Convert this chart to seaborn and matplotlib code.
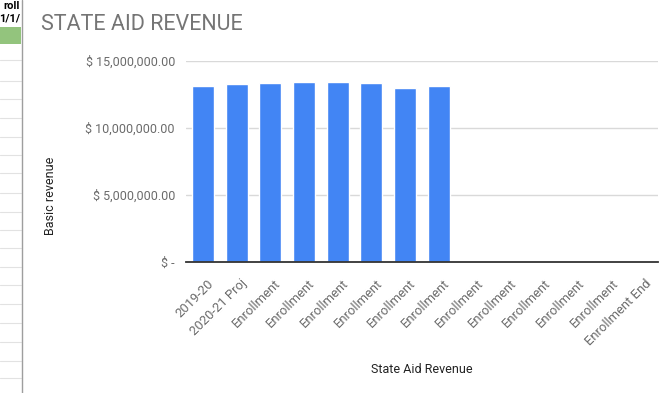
import numpy as np
import pandas as pd
import matplotlib
matplotlib.use("Agg")
import matplotlib.pyplot as plt
import matplotlib.ticker as mticker
import matplotlib.transforms as mtransforms
from matplotlib.patches import Rectangle
from matplotlib.lines import Line2D
import seaborn as sns

# Chart data
categories = ["2019-20", "2020-21 Proj", "Enrollment", "Enrollment", "Enrollment",
              "Enrollment", "Enrollment", "Enrollment", "Enrollment", "Enrollment",
              "Enrollment", "Enrollment", "Enrollment", "Enrollment End"]
basic_revenue = [13070000, 13270000, 13360000, 13430000, 13430000, 13360000,
                 12950000, 13070000, np.nan, np.nan, np.nan, np.nan, np.nan, np.nan]
y_ticks = [0, 5000000, 10000000, 15000000]

title = "STATE AID REVENUE"
x_title = "State Aid Revenue"
y_title = "Basic revenue"

sns.set_theme(style="white")
plt.rcParams["font.family"] = ["Roboto", "DejaVu Sans"]

df = pd.DataFrame({"pos": list(range(len(categories))), "value": basic_revenue})

W, H = 666, 393
fig = plt.figure(figsize=(6.66, 3.93), dpi=100)
ax = fig.add_axes([186 / W, 1 - 262.3 / H, 472 / W, (262.3 - 60.5) / H])

sns.barplot(data=df, x="pos", y="value", color="#4285F4", saturation=1,
            width=0.65, errorbar=None, ax=ax, zorder=3)

ax.set_ylim(0, 15000000)
ax.set_xlim(-0.5, len(categories) - 0.5)
ax.set_yticks(y_ticks)


def money(v, _):
    if v == 0:
        return "$ -"
    return "$ {:,.2f}".format(v)


ax.yaxis.set_major_formatter(mticker.FuncFormatter(money))
ax.grid(axis="y", color="#d9d9d9", linewidth=1, zorder=0)
ax.grid(axis="x", visible=False)
for s in ["top", "right", "left"]:
    ax.spines[s].set_visible(False)
ax.spines["bottom"].set_color("#333333")
ax.spines["bottom"].set_linewidth(1.3)
ax.spines["bottom"].set_zorder(4)

ax.tick_params(axis="y", length=0, pad=8, labelsize=9, labelcolor="#6b6b6b")
ax.tick_params(axis="x", length=0, pad=4, labelsize=9.4, labelcolor="#6b6b6b")
ax.set_xticks(range(len(categories)))
ax.set_xticklabels(categories, rotation=45, ha="right", rotation_mode="anchor")
shift = mtransforms.ScaledTranslation(4 / 100, -9 / 100, fig.dpi_scale_trans)
for lab in ax.get_xticklabels():
    lab.set_transform(lab.get_transform() + shift)

ax.set_xlabel(x_title, fontsize=9, color="#222222")
ax.set_ylabel(y_title, fontsize=9, color="#222222")
ax.xaxis.set_label_coords(0.5, -0.50)
ax.yaxis.set_label_coords(-(186 - 57) / 472, (262.3 - 196) / 201.8)

fig.text(41 / W, 1 - 25 / H, title, fontsize=15.5, color="#757575",
         ha="left", va="center")

# Spreadsheet edge on the left
fig.patches.append(Rectangle((0, 1 - 44 / H), 21 / W, 17 / H, transform=fig.transFigure,
                             facecolor="#93c47d", edgecolor="none"))
for yy in [60, 81, 99, 118, 137, 155, 173, 193, 212, 230, 248, 267, 285, 304, 323, 342, 361, 378]:
    fig.lines.append(Line2D([0, 21 / W], [1 - yy / H, 1 - yy / H], transform=fig.transFigure,
                            color="#e2e2e2", linewidth=0.8))
fig.lines.append(Line2D([21.5 / W, 21.5 / W], [0, 1], transform=fig.transFigure,
                        color="#9e9e9e", linewidth=1))
for txt, yy in [("roll", 6), ("1/1/", 19)]:
    fig.text(20 / W, 1 - yy / H, txt, fontsize=8, fontweight="bold", color="#000000",
             ha="right", va="center")

fig.savefig("out.png", dpi=100)
